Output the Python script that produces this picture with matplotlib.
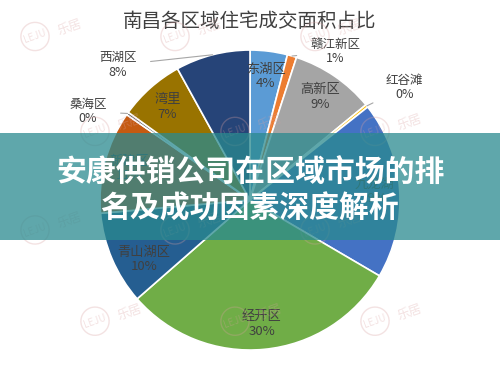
import matplotlib
matplotlib.use("Agg")
import matplotlib.pyplot as plt
from matplotlib.patches import Rectangle
import numpy as np

plt.rcParams['font.family'] = ['Noto Sans CJK SC', 'DejaVu Sans']

# district share of residential sales area (%), clockwise from 12 o'clock
districts = ['东湖区', '赣江新区', '高新区', '红谷滩', '九龙湖', '经开区',
             '青山湖区', '新建区', '桑海区', '湾里', '西湖区']
shares = [4, 1, 9, 0.3, 19, 30, 10, 11, 0.3, 7, 8]
colors = ['#5b9bd5', '#ed7d31', '#a5a5a5', '#ffc000', '#4472c4', '#70ad47',
          '#255e91', '#c55a11', '#636363', '#997300', '#264478']

title = '南昌各区域住宅成交面积占比'
banner_lines = ['安康供销公司在区域市场的排', '名及成功因素深度解析']

# labels drawn outside with a leader line: name -> (text x, text y) in pie units
outside = {
    '赣江新区': (0.57, 0.99),
    '红谷滩': (1.03, 0.75),
    '西湖区': (-0.88, 0.90),
    '桑海区': (-1.08, 0.59),
}
# inside labels that sit off the slice middle: name -> (angle shift deg, radius)
nudge = {'青山湖区': (-6, 0.81)}

fig = plt.figure(figsize=(5, 3.65), dpi=100)
fig.patch.set_facecolor('white')

ax = fig.add_axes([0.2, 0.041, 0.6, 0.822])
wedges, _ = ax.pie(shares, colors=colors, startangle=90, counterclock=False,
                   radius=1.0, wedgeprops=dict(edgecolor='white', linewidth=1.2))
ax.set_xlim(-1, 1)
ax.set_ylim(-1, 1)
ax.set_aspect('equal')
ax.axis('off')

total = sum(shares)
cum = np.cumsum([0] + shares)
for i, name in enumerate(districts):
    mid = (cum[i] + cum[i + 1]) / 2 / total * 360  # degrees clockwise from top
    label = '%s\n%d%%' % (name, round(shares[i]))
    if name in outside:
        theta = np.deg2rad(90 - mid)
        tx, ty = outside[name]
        ex, ey = np.cos(theta), np.sin(theta)
        ax.annotate(label, xy=(ex, ey), xytext=(tx, ty), ha='center', va='center',
                    fontsize=9, color='#404040', linespacing=1.15,
                    arrowprops=dict(arrowstyle='-', color='#a6a6a6', lw=0.8,
                                    shrinkA=8, shrinkB=0))
    else:
        shift, r = nudge.get(name, (0, 0.83))
        theta = np.deg2rad(90 - mid - shift)
        ax.text(r * np.cos(theta), r * np.sin(theta), label, ha='center',
                va='center', fontsize=9.5, color='#404040', linespacing=1.15)

fig.text(0.5, 0.94, title, ha='center', va='center', fontsize=14, color='#404040')

# faint site watermarks
for row, yy in enumerate([0.9, 0.64, 0.37, 0.12]):
    for xx in np.arange(0.07 + 0.12 * (row % 2), 0.9, 0.28):
        fig.text(xx, yy, 'LEJU', ha='center', va='center', fontsize=7,
                 color='#d9a0a0', alpha=0.3, rotation=20,
                 bbox=dict(boxstyle='circle,pad=0.25', fc='none', ec='#d9a0a0',
                           alpha=0.3, lw=1))
        fig.text(xx + 0.07, yy + 0.025, '乐居', ha='center', va='center',
                 fontsize=9, color='#d9a0a0', alpha=0.3, rotation=20)

# translucent banner with headline
fig.patches.append(Rectangle((0, 0.342), 1, 0.293, transform=fig.transFigure,
                             facecolor='#2a8a8f', alpha=0.75, edgecolor='none',
                             zorder=5))
fig.text(0.5, 0.529, banner_lines[0], ha='center', va='center', fontsize=21.5,
         color='white', fontweight='bold', zorder=6)
fig.text(0.5, 0.430, banner_lines[1], ha='center', va='center', fontsize=21.5,
         color='white', fontweight='bold', zorder=6)

fig.savefig('out.png', dpi=100)
